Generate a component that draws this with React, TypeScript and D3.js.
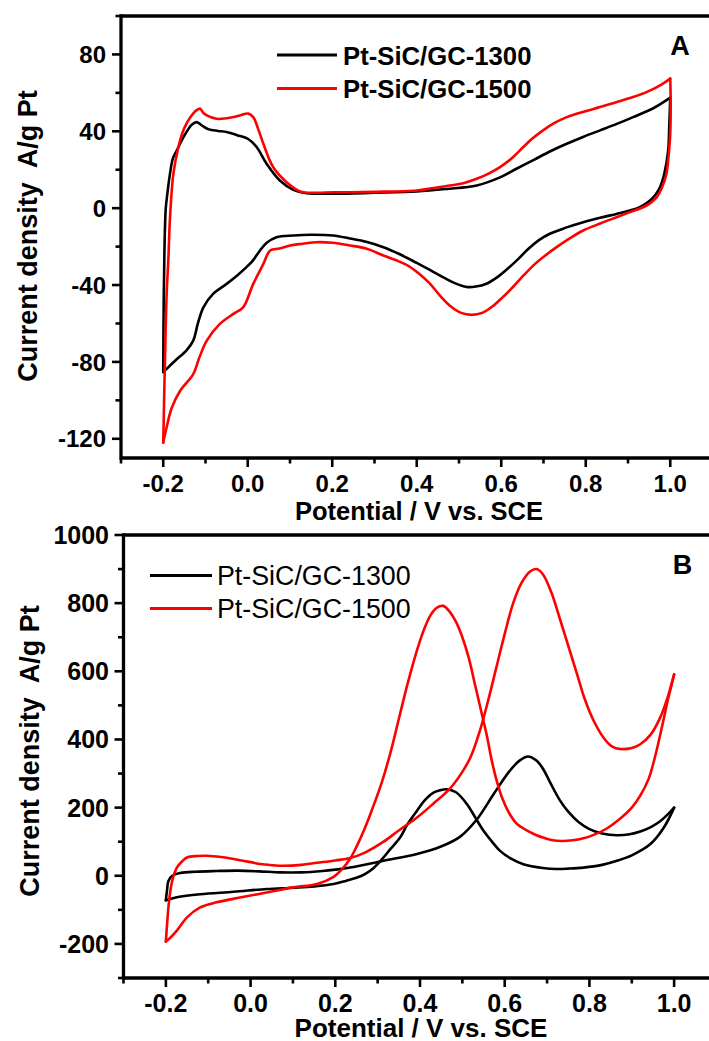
import React from "react";
import * as d3 from "d3";

type Pt = [number, number];

// ---------- Panel A data (CV in acid) ----------
const A_BLACK_FWD: Pt[] = [
  [-0.2, -85], [-0.199, -50], [-0.197, -20], [-0.194, 0], [-0.19, 8], [-0.184, 18], [-0.177, 26],
  [-0.168, 30], [-0.157, 35], [-0.145, 39.6], [-0.132, 43.5], [-0.121, 44.8], [-0.107, 42.8],
  [-0.092, 41], [-0.07, 40.2], [-0.05, 39.6], [-0.025, 38], [0.001, 36], [0.021, 31.8],
  [0.045, 23], [0.076, 14.4], [0.108, 9.5], [0.139, 7.8], [0.2, 7.5], [0.3, 8], [0.4, 8.7],
  [0.47, 10], [0.542, 11.8], [0.597, 16], [0.636, 20.5], [0.676, 25], [0.715, 29.5],
  [0.755, 33.5], [0.795, 37.2], [0.834, 40.5], [0.875, 44], [0.912, 47.4], [0.96, 52], [1.0, 57.5],
];
const A_BLACK_REV: Pt[] = [
  [1.0, 57.5], [0.998, 45], [0.995, 30], [0.986, 18], [0.976, 11], [0.965, 7], [0.952, 4],
  [0.928, 0.5], [0.9, -1.5], [0.873, -3], [0.834, -5], [0.794, -7.3], [0.755, -10], [0.715, -13.3],
  [0.69, -16.5], [0.665, -21], [0.64, -26.5], [0.615, -31.5], [0.59, -36], [0.565, -39.3],
  [0.54, -40.8], [0.518, -41], [0.49, -39], [0.463, -36], [0.43, -32], [0.4, -28.5], [0.36, -24],
  [0.321, -20.3], [0.28, -17.5], [0.242, -15.8], [0.202, -14.2], [0.15, -13.8], [0.108, -14.2],
  [0.068, -15.1], [0.045, -18], [0.029, -22], [0.013, -27], [-0.003, -30.7], [-0.025, -35],
  [-0.05, -39.4], [-0.082, -44.6], [-0.105, -51.6], [-0.118, -60], [-0.129, -68.9], [-0.145, -74],
  [-0.17, -79], [-0.192, -83.6], [-0.2, -85.4],
];
const A_RED_FWD: Pt[] = [
  [-0.2, -122], [-0.198, -100], [-0.195, -70], [-0.192, -45], [-0.188, -27], [-0.184, -5],
  [-0.176, 18], [-0.164, 32], [-0.155, 39], [-0.145, 44], [-0.132, 48.5], [-0.121, 51],
  [-0.113, 51.8], [-0.105, 49.5], [-0.097, 48.3], [-0.074, 46.5], [-0.05, 46.8], [-0.034, 47.4],
  [-0.015, 48.5], [0.001, 49.2], [0.013, 47.4], [0.025, 41], [0.037, 33.5], [0.06, 21.4],
  [0.092, 13.5], [0.124, 8.7], [0.16, 8], [0.202, 8.3], [0.242, 8.3], [0.3, 8.5], [0.4, 9.2],
  [0.44, 10.5], [0.479, 11.8], [0.51, 13], [0.542, 15.3], [0.57, 18], [0.597, 21.4], [0.625, 26],
  [0.652, 31.8], [0.675, 36.5], [0.699, 40.5], [0.725, 44.2], [0.755, 47.4], [0.795, 50.2],
  [0.834, 52.6], [0.87, 55], [0.912, 57.8], [0.945, 60.5], [0.976, 63.9], [1.0, 67.4],
];
const A_RED_REV: Pt[] = [
  [1.0, 67.4], [1.001, 55], [1.0, 38.7], [0.996, 27], [0.991, 17.9], [0.98, 10.5], [0.968, 5.7],
  [0.952, 2.5], [0.936, 0.5], [0.905, -2], [0.873, -4.7], [0.834, -8], [0.794, -11.6],
  [0.76, -16], [0.731, -20.3], [0.705, -24.5], [0.68, -29], [0.655, -34.5], [0.63, -40.5],
  [0.605, -46], [0.58, -51], [0.555, -54.5], [0.53, -55.5], [0.505, -54.5], [0.48, -51],
  [0.455, -45.5], [0.43, -39], [0.405, -34], [0.38, -30], [0.35, -27], [0.321, -24.6], [0.28, -21],
  [0.242, -19.4], [0.2, -18], [0.163, -17.7], [0.13, -18.5], [0.1, -19.4], [0.075, -21],
  [0.053, -22], [0.037, -29], [0.013, -39.4], [-0.011, -51.6], [-0.034, -55], [-0.066, -60.2],
  [-0.097, -68.9], [-0.115, -78], [-0.129, -86.3], [-0.16, -95], [-0.18, -104], [-0.192, -114],
  [-0.2, -121.9],
];

// ---------- Panel B data (methanol oxidation) ----------
const B_BLACK_FWD: Pt[] = [
  [-0.2, -72], [-0.197, -40], [-0.194, -15], [-0.185, 0], [-0.166, 8], [-0.13, 12], [-0.08, 14],
  [-0.03, 15], [0.02, 13], [0.07, 10], [0.12, 10], [0.17, 14], [0.2, 18], [0.235, 24],
  [0.314, 44], [0.393, 64], [0.448, 85], [0.495, 115], [0.534, 165], [0.574, 240], [0.61, 305],
  [0.635, 338], [0.655, 350], [0.675, 338], [0.69, 315], [0.708, 272], [0.73, 222],
  [0.75, 188], [0.775, 157], [0.8, 137], [0.83, 124], [0.865, 119], [0.895, 122], [0.92, 130],
  [0.945, 143], [0.967, 160], [0.985, 180], [1.0, 200],
];
const B_BLACK_REV: Pt[] = [
  [1.0, 200], [0.975, 140], [0.944, 93], [0.9, 60], [0.865, 44], [0.83, 32], [0.786, 24],
  [0.75, 21], [0.723, 20], [0.69, 23], [0.644, 34], [0.615, 50], [0.589, 73], [0.57, 100],
  [0.55, 132], [0.53, 172], [0.511, 210], [0.485, 245], [0.463, 254], [0.445, 250], [0.432, 244],
  [0.41, 220], [0.393, 191], [0.37, 150], [0.353, 112], [0.33, 78], [0.31, 48], [0.29, 22],
  [0.27, 5], [0.25, -6], [0.225, -15], [0.196, -24], [0.15, -31], [0.1, -35], [0.038, -39],
  [-0.04, -47], [-0.119, -54], [-0.174, -63], [-0.2, -72],
];
const B_RED_FWD: Pt[] = [
  [-0.2, -193], [-0.197, -140], [-0.193, -80], [-0.19, -50], [-0.184, -10], [-0.174, 24],
  [-0.162, 42], [-0.15, 53.7], [-0.125, 58], [-0.103, 58.7], [-0.07, 55], [-0.04, 49], [0.0, 40],
  [0.023, 34.3], [0.05, 31], [0.078, 29.3], [0.12, 32], [0.157, 38], [0.2, 45], [0.235, 52],
  [0.27, 68], [0.314, 100], [0.35, 133], [0.393, 171], [0.43, 210], [0.47, 255], [0.5, 305],
  [0.52, 350], [0.54, 420], [0.56, 510], [0.58, 610], [0.6, 710], [0.62, 800], [0.64, 860],
  [0.66, 893], [0.675, 900], [0.69, 885], [0.71, 832], [0.73, 755], [0.75, 675], [0.77, 595],
  [0.79, 515], [0.81, 455], [0.833, 406], [0.853, 380], [0.873, 372], [0.9, 375], [0.92, 386],
  [0.945, 415], [0.967, 464], [0.985, 525], [1.0, 591],
];
const B_RED_REV: Pt[] = [
  [1.0, 591], [0.985, 515], [0.97, 430], [0.955, 350], [0.94, 285], [0.92, 235], [0.9, 200],
  [0.87, 165], [0.84, 138], [0.81, 120], [0.786, 110], [0.76, 104], [0.735, 102], [0.71, 105],
  [0.69, 112], [0.67, 122], [0.65, 135], [0.629, 152], [0.61, 185], [0.595, 225], [0.582, 275],
  [0.57, 335], [0.558, 410], [0.545, 480], [0.53, 560], [0.515, 640], [0.5, 700], [0.485, 745],
  [0.47, 775], [0.455, 792], [0.44, 787], [0.425, 765], [0.408, 718], [0.39, 650], [0.37, 560],
  [0.35, 460], [0.33, 360], [0.31, 275], [0.29, 205], [0.27, 140], [0.25, 85], [0.235, 50],
  [0.215, 18], [0.196, -3], [0.157, -24], [0.101, -34], [0.038, -49], [-0.025, -64],
  [-0.08, -78], [-0.119, -93], [-0.15, -122], [-0.174, -161], [-0.192, -185], [-0.2, -193],
];

// ---------- Ticks and labels ----------
const X_MAJOR = [-0.2, 0.0, 0.2, 0.4, 0.6, 0.8, 1.0];
const X_MINOR = [-0.3, -0.1, 0.1, 0.3, 0.5, 0.7, 0.9, 1.1];
const A_Y_MAJOR = [-120, -80, -40, 0, 40, 80];
const A_Y_MINOR = [-100, -60, -20, 20, 60, 100];
const B_Y_MAJOR = [-200, 0, 200, 400, 600, 800, 1000];
const B_Y_MINOR = [-300, -100, 100, 300, 500, 700, 900];
const SERIES_NAMES = ["Pt-SiC/GC-1300", "Pt-SiC/GC-1500"];
const X_TITLE = "Potential / V vs. SCE";
const Y_TITLE = "Current density  A/g Pt";

const FONT = "'Liberation Sans', Arial, Helvetica, sans-serif";
const COLORS = ["#000000", "#ff0000"];

type PanelProps = {
  left: number; right: number; top: number; bottom: number;
  xDomain: [number, number]; yDomain: [number, number];
  yMajor: number[]; yMinor: number[];
  curves: { pts: Pt[]; color: string }[];
  tickFont: number; xTickBase: number;
  xTitleX: number; xTitleBase: number; xTitleSize: number;
  yTitleX: number; yTitleY: number; yLabelRight: number;
  letter: string; letterX: number; letterY: number;
  legend: { x1: number; x2: number; tx: number; ys: number[]; bases: number[]; size: number; weight: string };
};

const Panel: React.FC<PanelProps> = (p) => {
  const xs = d3.scaleLinear().domain(p.xDomain).range([p.left, p.right]);
  const ys = d3.scaleLinear().domain(p.yDomain).range([p.bottom, p.top]);
  const line = d3.line<Pt>().x((d) => xs(d[0])).y((d) => ys(d[1])).curve(d3.curveCatmullRom.alpha(0.5));
  const aw = 3.3;
  return (
    <g>
      {p.curves.map((c, i) => (
        <path key={i} d={line(c.pts) || ""} fill="none" stroke={c.color} strokeWidth={2.6}
          strokeLinejoin="round" strokeLinecap="round" />
      ))}
      {/* frame */}
      <line x1={p.left} x2={p.right + 5} y1={p.top} y2={p.top} stroke="#000" strokeWidth={aw} />
      <line x1={p.left} x2={p.right + 5} y1={p.bottom} y2={p.bottom} stroke="#000" strokeWidth={aw} />
      <line x1={p.left} x2={p.left} y1={p.top - aw / 2} y2={p.bottom + aw / 2} stroke="#000" strokeWidth={aw} />
      {/* x ticks */}
      {X_MAJOR.map((v) => (
        <g key={"xm" + v}>
          <line x1={xs(v)} x2={xs(v)} y1={p.bottom} y2={p.bottom + 9} stroke="#000" strokeWidth={2.6} />
          <text x={xs(v)} y={p.xTickBase} textAnchor="middle" fontFamily={FONT} fontWeight="bold"
            fontSize={p.tickFont}>{v.toFixed(1)}</text>
        </g>
      ))}
      {X_MINOR.map((v) => (
        <line key={"xn" + v} x1={xs(v)} x2={xs(v)} y1={p.bottom} y2={p.bottom + 5.5} stroke="#000" strokeWidth={2.6} />
      ))}
      {/* y ticks */}
      {p.yMajor.map((v) => (
        <g key={"ym" + v}>
          <line x1={p.left - 9} x2={p.left} y1={ys(v)} y2={ys(v)} stroke="#000" strokeWidth={2.6} />
          <text x={p.yLabelRight} y={ys(v) + p.tickFont * 0.36} textAnchor="end" fontFamily={FONT}
            fontWeight="bold" fontSize={p.tickFont}>{String(v)}</text>
        </g>
      ))}
      {p.yMinor.map((v) => (
        <line key={"yn" + v} x1={p.left - 5.5} x2={p.left} y1={ys(v)} y2={ys(v)} stroke="#000" strokeWidth={2.6} />
      ))}
      {/* titles */}
      <text x={p.xTitleX} y={p.xTitleBase} textAnchor="middle" fontFamily={FONT}
        fontWeight="bold" fontSize={p.xTitleSize}>{X_TITLE}</text>
      <text transform={`translate(${p.yTitleX},${p.yTitleY}) rotate(-90)`} textAnchor="middle"
        fontFamily={FONT} fontWeight="bold" fontSize={27} style={{ whiteSpace: "pre" }}>{Y_TITLE}</text>
      <text x={p.letterX} y={p.letterY} textAnchor="middle" fontFamily={FONT} fontWeight="bold"
        fontSize={27}>{p.letter}</text>
      {/* legend */}
      {SERIES_NAMES.map((n, i) => (
        <g key={n}>
          <line x1={p.legend.x1} x2={p.legend.x2} y1={p.legend.ys[i]} y2={p.legend.ys[i]}
            stroke={COLORS[i]} strokeWidth={3} />
          <text x={p.legend.tx} y={p.legend.bases[i]} fontFamily={FONT} fontWeight={p.legend.weight}
            fontSize={p.legend.size}>{n}</text>
        </g>
      ))}
    </g>
  );
};

export default function App() {
  return (
    <svg width={709} height={1041} viewBox="0 0 709 1041"
      style={{ position: "absolute", left: 0, top: 0, background: "#fff" }}>
      <rect x={0} y={0} width={709} height={1041} fill="#fff" />
      <Panel
        left={121} right={712.5} top={16} bottom={458}
        xDomain={[-0.3, 1.1]} yDomain={[-130, 100]}
        yMajor={A_Y_MAJOR} yMinor={A_Y_MINOR}
        curves={[
          { pts: A_BLACK_FWD, color: COLORS[0] }, { pts: A_BLACK_REV, color: COLORS[0] },
          { pts: A_RED_FWD, color: COLORS[1] }, { pts: A_RED_REV, color: COLORS[1] },
        ]}
        tickFont={24} xTickBase={492}
        xTitleX={419} xTitleBase={520} xTitleSize={25.5}
        yTitleX={36.5} yTitleY={236} yLabelRight={106}
        letter="A" letterX={680} letterY={55}
        legend={{ x1: 277, x2: 337, tx: 343, ys: [55, 88.5], bases: [65, 98.3], size: 25.7, weight: "bold" }}
      />
      <Panel
        left={123.5} right={716.5} top={535} bottom={978}
        xDomain={[-0.3, 1.1]} yDomain={[-300, 1000]}
        yMajor={B_Y_MAJOR} yMinor={B_Y_MINOR}
        curves={[
          { pts: B_BLACK_FWD, color: COLORS[0] }, { pts: B_BLACK_REV, color: COLORS[0] },
          { pts: B_RED_FWD, color: COLORS[1] }, { pts: B_RED_REV, color: COLORS[1] },
        ]}
        tickFont={25} xTickBase={1012}
        xTitleX={421} xTitleBase={1036.5} xTitleSize={26}
        yTitleX={38.5} yTitleY={751} yLabelRight={109}
        letter="B" letterX={682.5} letterY={573.5}
        legend={{ x1: 150, x2: 212, tx: 217, ys: [575.5, 608.5], bases: [584.5, 618], size: 26.8, weight: "normal" }}
      />
    </svg>
  );
}
